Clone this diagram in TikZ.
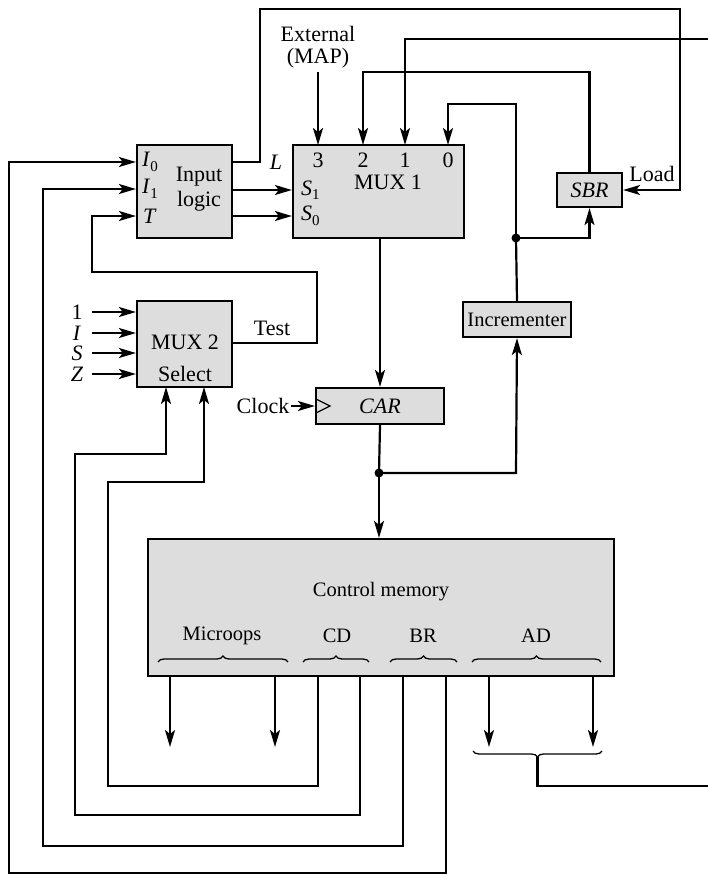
\documentclass[tikz,border=0pt]{standalone}
\usepackage{fontspec}
\setmainfont{Liberation Serif}
\usetikzlibrary{arrows.meta,decorations.pathreplacing}
\newcommand{\isub}[2]{\textit{#1}\raisebox{-.45ex}{\fontsize{15}{15}\selectfont #2}}
\tikzset{
 wire/.style={line width=2.2pt},
 arr/.style={wire,-{Stealth[length=17pt,width=10pt,inset=4pt]}},
 blk/.style={draw,line width=2.2pt,fill=gray!27,inner sep=0pt},
 lbl/.style={inner sep=0pt,font=\fontsize{22}{26}\selectfont},
 smalllbl/.style={inner sep=0pt,font=\fontsize{20.5}{24}\selectfont},
 jdot/.style={circle,fill,inner sep=0pt,minimum size=9pt},
 brc/.style={decorate,decoration={brace,amplitude=6pt},line width=1.3pt},
 brcm/.style={decorate,decoration={brace,amplitude=6pt,mirror},line width=1.3pt}
}
\begin{document}
\begin{tikzpicture}[x=1pt,y=-1pt]
\useasboundingbox (0,0) rectangle (708,875);
% blocks
\node[blk,minimum width=95pt,minimum height=93pt] (inl) at (184.5,191.5) {};
\node[blk,minimum width=171pt,minimum height=93pt] (mux1) at (378.5,191.5) {};
\node[blk,minimum width=65pt,minimum height=34pt,lbl] (sbr) at (589.5,190) {\textit{SBR}};
\node[blk,minimum width=108pt,minimum height=35pt,smalllbl] (incr) at (517,319.5) {Incrementer};
\node[blk,minimum width=95pt,minimum height=86pt] (mux2) at (184.5,344) {};
\node[blk,minimum width=128pt,minimum height=36pt,lbl] (car) at (380,406) {\textit{CAR}};
\node[blk,minimum width=466pt,minimum height=137pt] (cm) at (381,607.5) {};
% texts
\node[lbl] (ext) at (318,34) {External};
\node[lbl] (map) at (318,58) {(MAP)};
\node[lbl] (d3) at (318,160) {3};
\node[lbl] (d2) at (363,160) {2};
\node[lbl] (d1) at (405,160) {1};
\node[lbl] (d0) at (448,160) {0};
\node[lbl] (muxonet) at (388,182) {MUX 1};
\node[lbl,anchor=west] (s1) at (301,190) {\isub{S}{1}};
\node[lbl,anchor=west] (s0) at (301,216) {\isub{S}{0}};
\node[lbl,anchor=west] (ti0) at (142,162) {\isub{I}{0}};
\node[lbl,anchor=west] (ti1) at (142,189) {\isub{I}{1}};
\node[lbl,anchor=west] (tt) at (143,216) {\textit{T}};
\node[lbl] (intxt) at (199,177) {Input};
\node[lbl] (logtxt) at (199,201) {logic};
\node[lbl] (ll) at (276,162) {\textit{L}};
\node[lbl] (load) at (652,174) {Load};
\node[lbl] (in1) at (77,312) {1};
\node[lbl] (inI) at (77,333) {\textit{I}};
\node[lbl] (inS) at (77,353) {\textit{S}};
\node[lbl] (inZ) at (77,374) {\textit{Z}};
\node[lbl] (muxtwot) at (185,342) {MUX 2};
\node[lbl] (selt) at (185,374) {Select};
\node[lbl] (test) at (272,328) {Test};
\node[lbl] (clk) at (263,406) {Clock};
\node[smalllbl] (cmt) at (381,592) {Control memory};
\node[smalllbl] (mic) at (222,636) {Microops};
\node[smalllbl] (cd) at (337,636) {CD};
\node[smalllbl] (br) at (423,636) {BR};
\node[smalllbl] (ad) at (536,636) {AD};
% braces
\draw[brc] (158,662) -- (288,662);
\draw[brc] (303,662) -- (369,662);
\draw[brc] (390,662) -- (457,662);
\draw[brc] (472,662) -- (601,662);
% coordinates
\coordinate (j1) at (516,238);
\coordinate (j2) at (379,473);
\coordinate (m3) at (318,145);
\coordinate (m2) at (363,145);
\coordinate (m1) at (405,145);
\coordinate (m0) at (448,145);
% MUX1 inputs
\draw[arr] (318,72) -- (m3);
\draw[arr] (sbr.north) -- (589.5,72) -- (363,72) -- (m2);
\draw[arr] (708,39) -- (405,39) -- (m1);
\draw[wire] (incr.north) -- (j1);
\draw[arr] (j1) -- (516,104) -- (448,104) -- (m0);
\draw[arr] (j1) -- (589.5,238) -- (sbr.south);
\node[jdot] (dot1) at (j1) {};
% L output
\draw[arr] (inl.east |- ll) -- (260,162) -- (260,9) -- (680,9) -- (680,190) -- (sbr.east);
% select lines into MUX1
\draw[arr] (inl.east |- s1) -- (mux1.west |- s1);
\draw[arr] (inl.east |- s0) -- (mux1.west |- s0);
% MUX1 -> CAR
\draw[arr] (mux1.south -| car.north) -- (car.north);
% clock
\draw[arr] (clk.east) ++(2,0) -- (car.west);
\draw[line width=1.3pt] (316,399) -- (330,406) -- (316,413);
% CAR -> CM, incrementer
\draw[wire] (car.south) -- (j2);
\draw[arr] (j2) -- (j2 |- cm.north);
\draw[arr] (j2) -- (516,473) -- (incr.south);
\node[jdot] (dot2) at (j2) {};
% MUX2 inputs
\draw[arr] (92,312) -- (mux2.west |- in1);
\draw[arr] (92,333) -- (mux2.west |- inI);
\draw[arr] (92,353) -- (mux2.west |- inS);
\draw[arr] (92,374) -- (mux2.west |- inZ);
% Test -> T
\draw[arr] (mux2.east |- 0,343) -- (317,343) -- (317,272) -- (92,272) -- (92,216) -- (inl.west |- tt);
% feedback from CM
\draw[arr] (cm.south -| 446,0) -- (446,873) -- (9,873) -- (9,162) -- (inl.west |- ti0);
\draw[arr] (cm.south -| 403,0) -- (403,846) -- (43,846) -- (43,189) -- (inl.west |- ti1);
\draw[arr] (cm.south -| 360,0) -- (360,815) -- (75,815) -- (75,454) -- (166,454) -- (166,387);
\draw[arr] (cm.south -| 318,0) -- (318,786) -- (108,786) -- (108,482) -- (204,482) -- (204,387);
% CM outputs
\draw[arr] (cm.south -| 170,0) -- (170,747);
\draw[arr] (cm.south -| 275,0) -- (275,747);
\draw[arr] (cm.south -| 489,0) -- (489,747);
\draw[arr] (cm.south -| 593,0) -- (593,747);
% AD brace out
\draw[brcm] (473,751) -- (602,751);
\coordinate (adb) at (537.5,757);
\draw[wire] (adb) -- (537.5,786) -- (708,786);
\end{tikzpicture}
\end{document}
